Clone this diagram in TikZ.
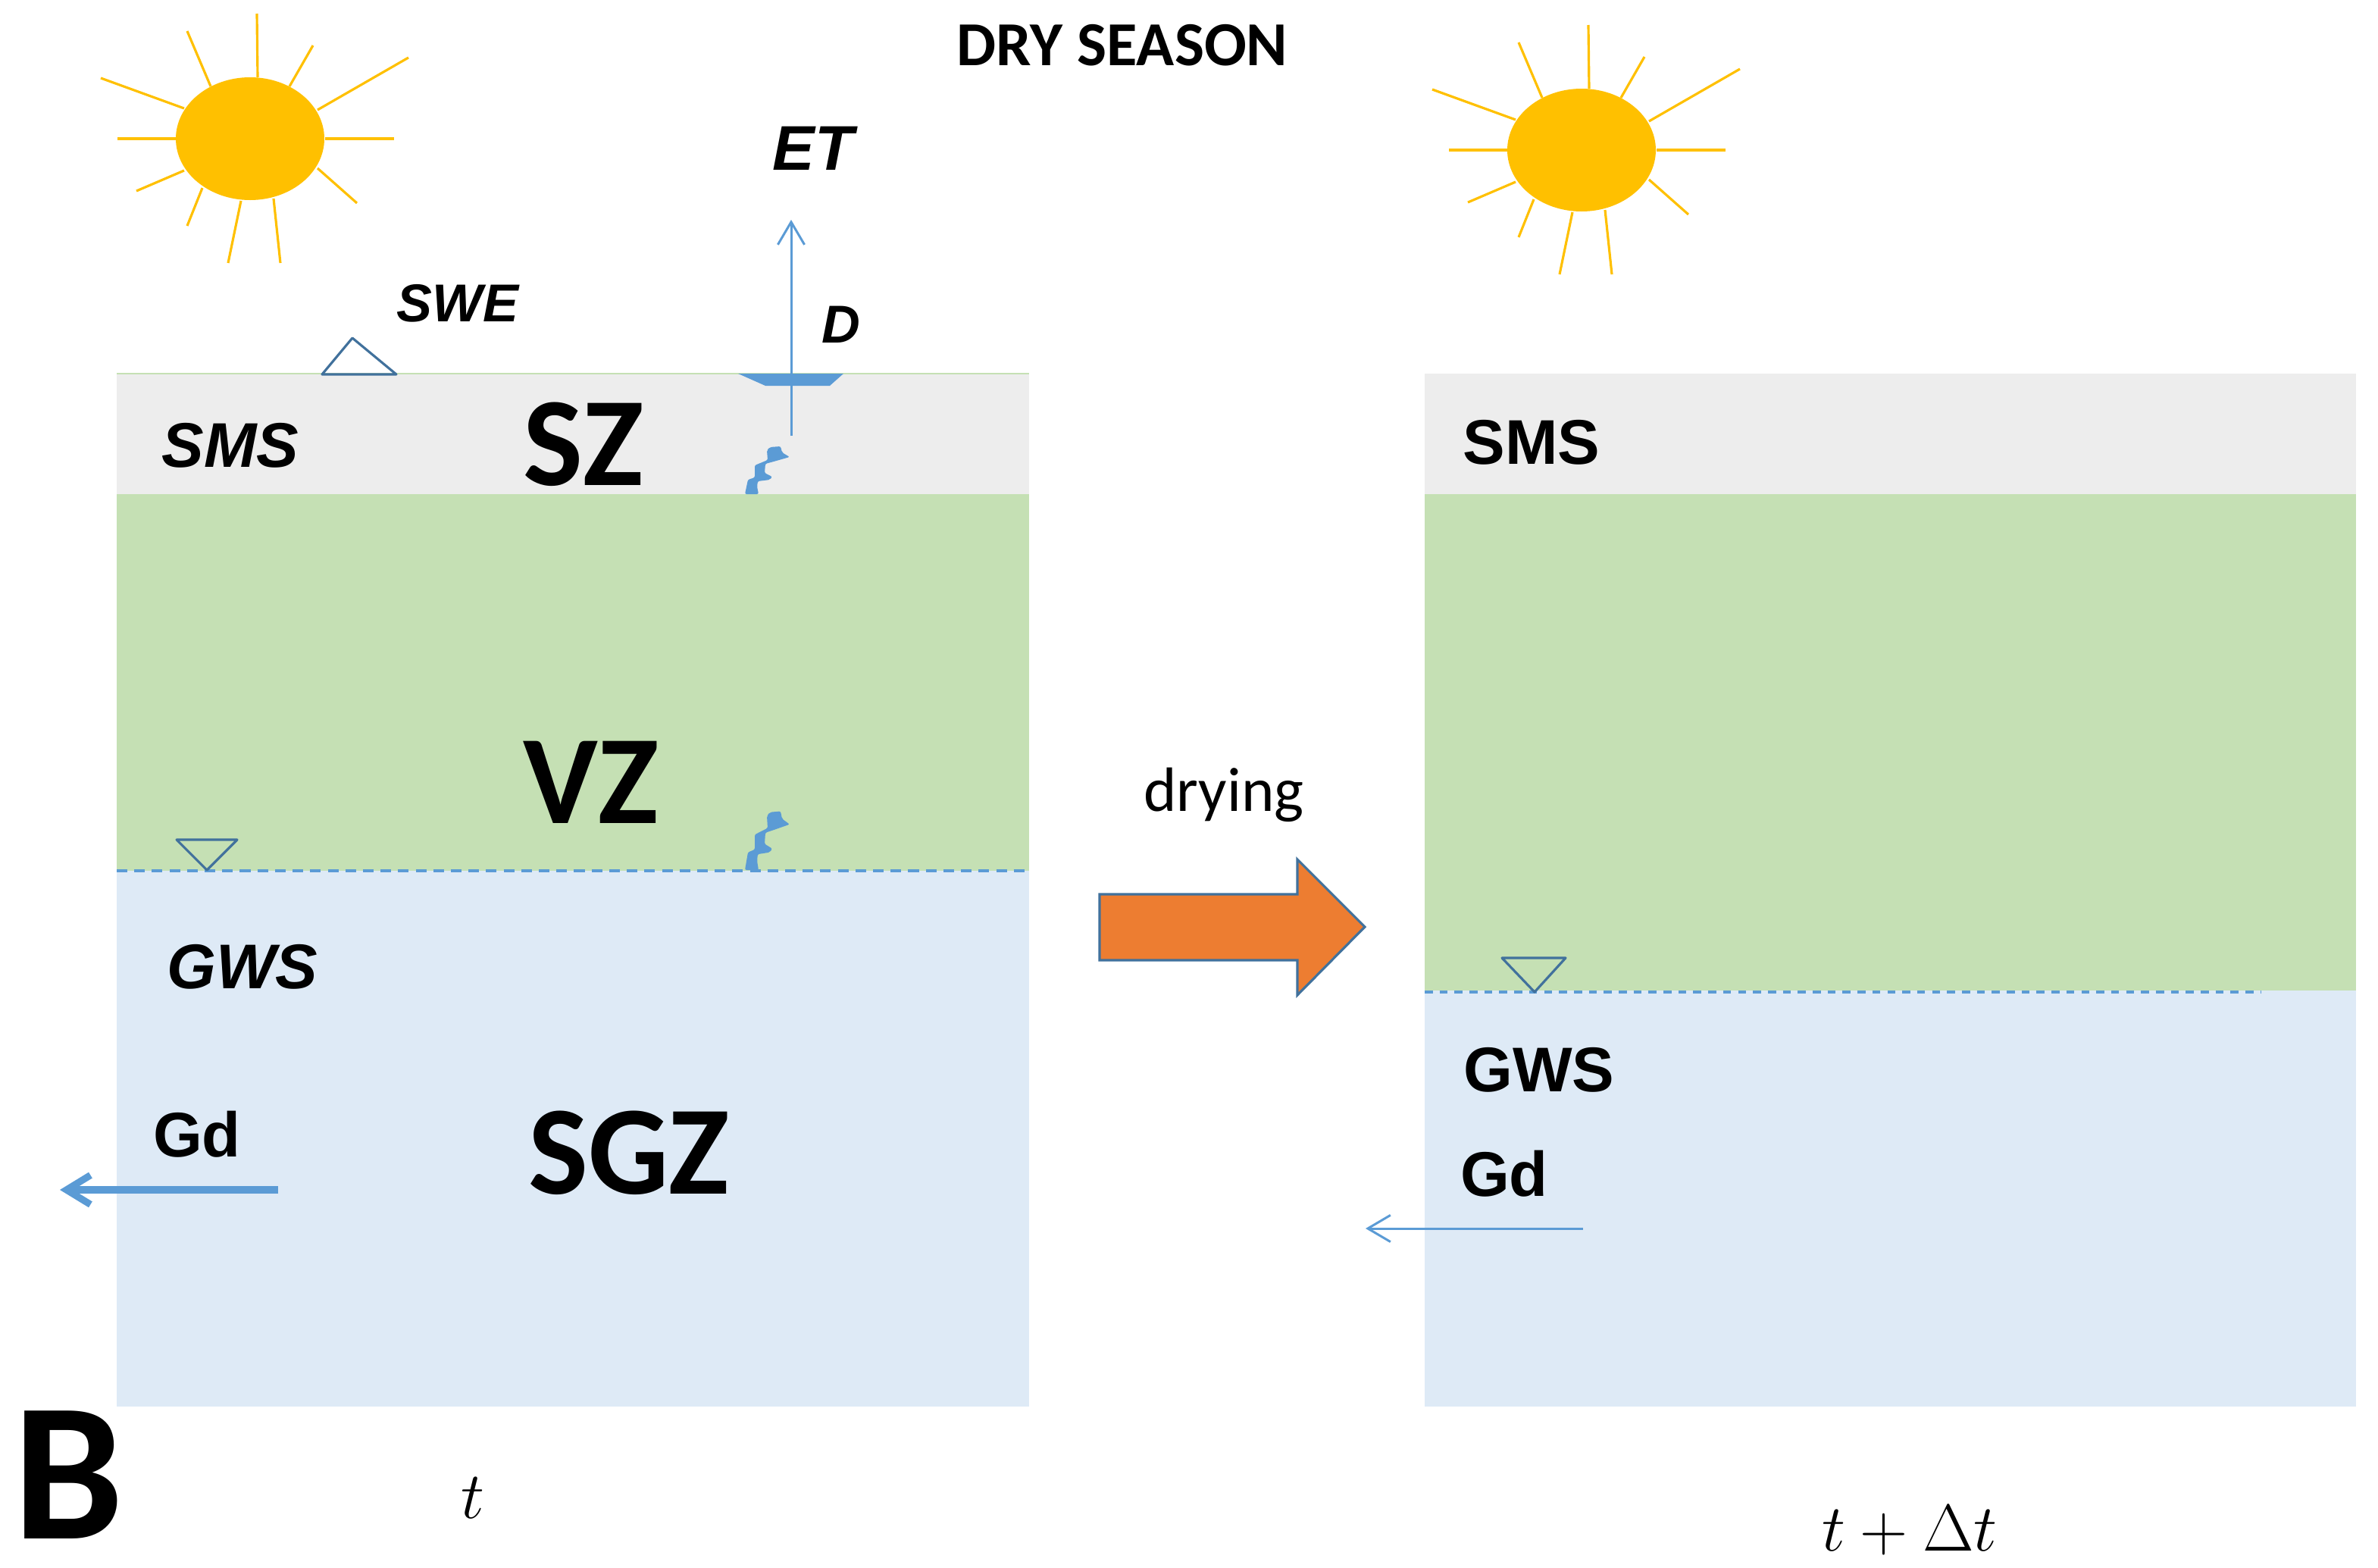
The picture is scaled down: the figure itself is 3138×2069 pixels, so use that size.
\documentclass[tikz,border=0pt]{standalone}
\usepackage{fontspec}
\setmainfont{Carlito}
\newfontfamily\armo{Liberation Sans}
\usetikzlibrary{arrows.meta}
\definecolor{soilgray}{HTML}{EDEDED}
\definecolor{vadose}{HTML}{C5E0B4}
\definecolor{ground}{HTML}{DEEAF6}
\definecolor{sunny}{HTML}{FFC000}
\definecolor{water}{HTML}{5B9BD5}
\definecolor{edgeblue}{HTML}{41719C}
\definecolor{dryarrow}{HTML}{ED7D31}
\tikzset{
  zonelabel/.style={font=\fontsize{47.5}{47.5}\selectfont\bfseries},
  storelabel/.style={font=\fontsize{23.7}{24}\selectfont\bfseries\itshape\armo},
  smalllabel/.style={font=\fontsize{20}{21}\selectfont\bfseries\itshape\armo},
  armolabel/.style={font=\fontsize{23.7}{24}\selectfont\bfseries\armo},
  flowarrow/.style={water,line width=0.85pt,-{Straight Barb[length=8.5pt,width=10pt]}},
  wtable/.style={edgeblue,line width=0.9pt,line join=round},
  wline/.style={water,line width=1pt,dash pattern=on 4pt off 2.6pt},
  ray/.style={sunny,line width=0.9pt}
}
\newcommand{\sunshape}{%
  \fill[sunny] (330,183) ellipse [x radius=98,y radius=81];
  \foreach \ax/\ay/\bx/\by in {340/102/339/18,382/114/413/60,419/145/539/76,429/183/520/183,
    419/222/471/268,361/262/370/347,318/265/301/347,267/248/247/298,243/225/180/252,
    233/183/155/183,243/143/133/103,278/114/247/41}
    \draw[ray] (\ax,\ay) -- (\bx,\by);
}
\newcommand{\seep}{%
  \fill[water,rounded corners=0.6pt] (24,-62) -- (38,-63) -- (40,-55) -- (50,-49) -- (29,-43) -- (18,-40) -- (17,-28)
    -- (27,-23) -- (24,-19) -- (8,-17) -- (7,-10) -- (9,0) -- (-9,0) -- (-5,-19) -- (4,-22)
    -- (4,-38) -- (21,-45) -- (20,-58) -- cycle;
}
\begin{document}
\begin{tikzpicture}[x=0.01cm,y=-0.01cm]
\useasboundingbox (0,0) rectangle (3138,2069);
\node (title) at (1481,60) {\fontsize{23.5}{24}\selectfont\bfseries DRY SEASON};

% left column, time t
\fill[soilgray] (154,493) rectangle (1358,652);
\fill[vadose] (154,652) rectangle (1358,1149);
\fill[ground] (154,1149) rectangle (1358,1856);
\draw[vadose,line width=0.7pt] (154,493) -- (1358,493);
\draw[wline] (154,1149) -- (1358,1149);
\sunshape
\draw[wtable] (425,494) -- (465,446) -- (523,494) -- cycle;
\draw[wtable] (233,1108) -- (313,1108) -- (273,1148) -- cycle;
\fill[water] (974,493) -- (1113,493) -- (1095,509) -- (1010,509) -- cycle;
\begin{scope}[shift={(992,652)}]
\seep
\end{scope}
\begin{scope}[shift={(992,1148)},yscale=1.23]
\seep
\end{scope}
\coordinate (etbase) at (1044,575);
\coordinate (ettop) at (1044,290);
\draw[flowarrow] (etbase) -- (ettop);
\coordinate (gdtail) at (367,1570);
\coordinate (gdtip) at (79,1570);
\draw[water,line width=2.6pt,-{Straight Barb[length=9pt,width=11pt]}] (gdtail) -- (gdtip);
\node[storelabel] (et) at (1073,196) {ET};
\node[smalllabel] (swe) at (604,400) {SWE};
\node[smalllabel] (drain) at (1110,428) {D};
\node[storelabel] (sms) at (304,588) {SMS};
\node[storelabel] (gws) at (320,1276) {GWS};
\node[armolabel] (gd) at (260,1497) {Gd};
\node[zonelabel] (sz) at (770,586) {SZ};
\node[zonelabel] (vz) at (780,1032) {VZ};
\node[zonelabel] (sgz) at (830,1521) {SGZ};
\node[font=\fontsize{74}{74}\selectfont\bfseries] (panel) at (90,1946) {B};
\node[font=\fontsize{23}{23}\selectfont] (tleft) at (624,1977) {$t$};

% drying arrow between columns
\draw[edgeblue,line width=0.9pt,fill=dryarrow] (1451,1180) -- (1712,1180) -- (1712,1134) -- (1801,1223)
  -- (1712,1313) -- (1712,1267) -- (1451,1267) -- cycle;
\node[font=\fontsize{23.5}{24}\selectfont] (drying) at (1615,1049) {drying};

% right column, time t + dt
\fill[soilgray] (1880,493) rectangle (3109,652);
\fill[vadose] (1880,652) rectangle (3109,1307);
\fill[ground] (1880,1307) rectangle (3109,1856);
\draw[wline,dash pattern=on 3pt off 2.6pt] (1880,1309) -- (2984,1309);
\begin{scope}[shift={(1757,15)}]
\sunshape
\end{scope}
\draw[wtable] (1982,1264) -- (2066,1264) -- (2025,1309) -- cycle;
\coordinate (gdrtail) at (2089,1621);
\coordinate (gdrtip) at (1802,1621);
\draw[flowarrow] (gdrtail) -- (gdrtip);
\node[armolabel] (smsr) at (2021,584) {SMS};
\node[armolabel] (gwsr) at (2031,1412) {GWS};
\node[armolabel] (gdr) at (1985,1549) {Gd};
\node[font=\fontsize{23.5}{24}\selectfont] (tright) at (2520,2019) {$t+\Delta t$};
\end{tikzpicture}
\end{document}
